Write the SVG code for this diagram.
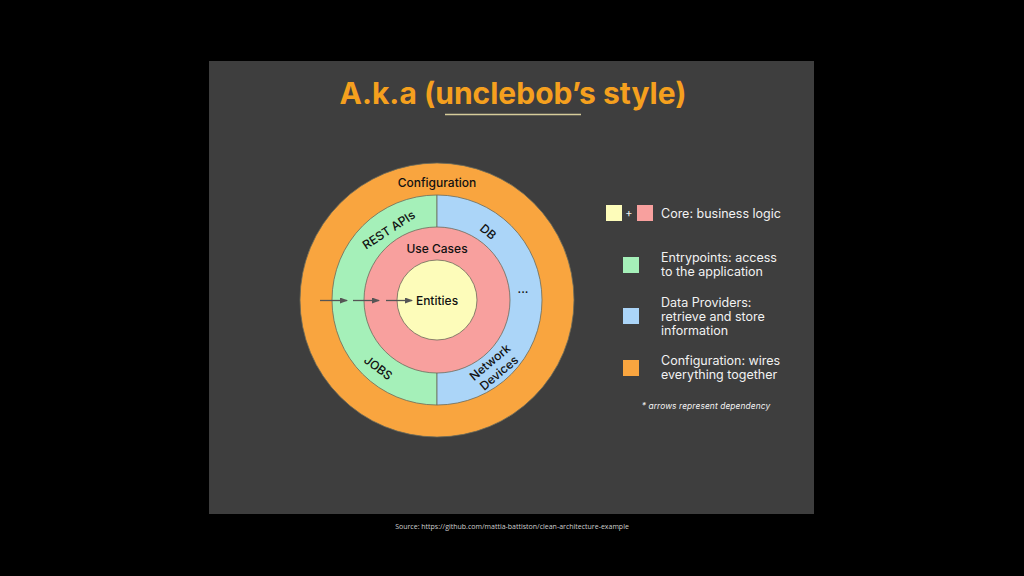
<svg xmlns="http://www.w3.org/2000/svg" width="1024" height="576" viewBox="0 0 1024 576">
<style>
.t{font-family:"Inter","Open Sans","Liberation Sans",sans-serif;fill:#111;}
.lbl{font-size:12px;font-weight:500;}
.leg{font-family:"Inter","Open Sans","Liberation Sans",sans-serif;fill:#f2f2f2;font-size:12.5px;}
.note{font-size:8.4px;font-style:italic;letter-spacing:0.1px;}
.plus{font-size:11px;}
.ring{stroke:#6b6b5a;stroke-width:0.8;}
.arr{stroke:#555;stroke-width:1.3;fill:none;marker-end:url(#ah);}
</style>
<defs>
<marker id="ah" markerWidth="8" markerHeight="6" refX="7" refY="3" orient="auto" markerUnits="userSpaceOnUse">
<path d="M0,0 L8,3 L0,6 Z" fill="#555"/>
</marker>
</defs>
<rect width="1024" height="576" fill="#000"/>
<rect id="slide" x="209" y="61" width="605" height="453" fill="#3e3e3e"/>
<g id="title">
<text x="513" y="104" text-anchor="middle" font-family="Inter,'Open Sans','Liberation Sans',sans-serif" font-size="30" font-weight="700" fill="#f5a01e">A.k.a (unclebob’s style)</text>
<line x1="445" y1="114.5" x2="581" y2="114.5" stroke="#d6cc9a" stroke-width="1.6"/>
</g>
<g id="configuration">
<circle class="ring" cx="437" cy="300" r="137" fill="#f9a53f"/>
<text class="t lbl" x="437" y="187" text-anchor="middle">Configuration</text>
</g>
<g id="entrypoints">
<path class="ring" d="M437,195 A105,105 0 0 0 437,405 Z" fill="#a5f0b9"/>
<text class="t lbl" transform="translate(389,230) rotate(-33)" text-anchor="middle" dy="4">REST APIs</text>
<text class="t lbl" transform="translate(378,368) rotate(37)" text-anchor="middle" dy="4">JOBS</text>
</g>
<g id="dataproviders">
<path class="ring" d="M437,195 A105,105 0 0 1 437,405 Z" fill="#abd5f8"/>
<text class="t lbl" transform="translate(488,232) rotate(40)" text-anchor="middle" dy="4">DB</text>
<text class="t lbl" x="523" y="293" text-anchor="middle">...</text>
<text class="t lbl" transform="translate(494,367) rotate(-40)" text-anchor="middle"><tspan x="0" dy="-2">Network</tspan><tspan x="0" dy="14">Devices</tspan></text>
</g>
<g id="usecases">
<circle class="ring" cx="437" cy="300" r="73" fill="#f8a09e"/>
<text class="t lbl" x="437" y="253" text-anchor="middle">Use Cases</text>
</g>
<g id="entities">
<circle class="ring" cx="437" cy="300" r="40" fill="#fdfcba"/>
<text class="t lbl" x="437" y="305" text-anchor="middle">Entities</text>
</g>
<g id="connectors">
<line class="arr" x1="320" y1="300.5" x2="347" y2="300.5"/>
<line class="arr" x1="353" y1="300.5" x2="379" y2="300.5"/>
<line class="arr" x1="386" y1="300.5" x2="412" y2="300.5"/>
</g>
<g id="legend">
<rect x="606" y="205" width="16" height="16" fill="#fdfcba"/>
<text class="leg plus" x="629" y="217" text-anchor="middle">+</text>
<rect x="637" y="205" width="16" height="16" fill="#f8a09e"/>
<text class="leg" x="661" y="217.5">Core: business logic</text>
<rect x="623" y="257" width="16" height="16" fill="#a5f0b9"/>
<text class="leg" x="661" y="262">Entrypoints: access</text>
<text class="leg" x="661" y="276">to the application</text>
<rect x="623" y="308" width="16" height="16" fill="#abd5f8"/>
<text class="leg" x="661" y="307">Data Providers:</text>
<text class="leg" x="661" y="321">retrieve and store</text>
<text class="leg" x="661" y="335">information</text>
<rect x="623" y="360" width="16" height="16" fill="#f9a53f"/>
<text class="leg" x="661" y="365">Configuration: wires</text>
<text class="leg" x="661" y="379">everything together</text>
<text class="leg note" x="706" y="409" text-anchor="middle">* arrows represent dependency</text>
</g>
<text id="source" x="512" y="529" text-anchor="middle" font-family="'Open Sans','Liberation Sans',sans-serif" font-size="7" fill="#cfcfcf">Source: https://github.com/mattia-battiston/clean-architecture-example</text>
</svg>
